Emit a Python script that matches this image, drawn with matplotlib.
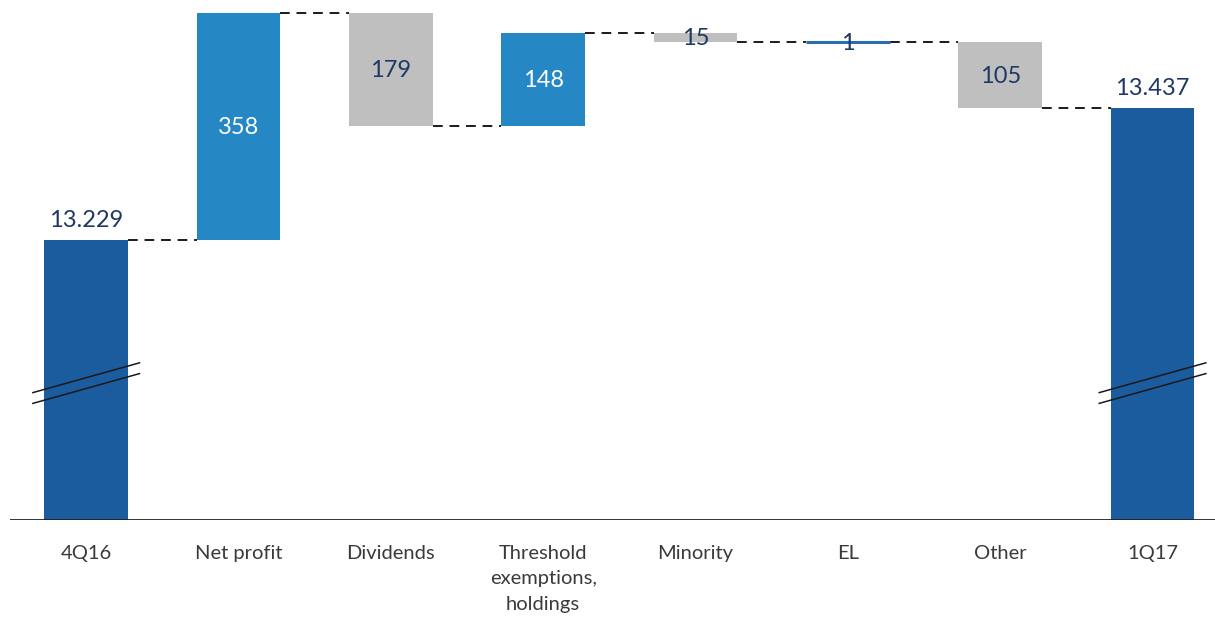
import numpy as np
import matplotlib
matplotlib.use("Agg")
from matplotlib import pyplot as plt

plt.rcParams['font.family'] = ['Lato', 'DejaVu Sans']

# Equity bridge 4Q16 -> 1Q17 (values in millions)
categories = ['4Q16', 'Net profit', 'Dividends', 'Threshold\nexemptions,\nholdings',
              'Minority', 'EL', 'Other', '1Q17']
start_total = 13229
changes = [358, -179, 148, -15, 1, -105]
end_total = 13437

total_color = '#1A5C9E'
up_color = '#2587C3'
down_color = '#BFBFBF'
el_color = '#2B6CB0'
label_dark = '#1F3864'

# Running totals for the floating bars
levels = [start_total]
for c in changes:
    levels.append(levels[-1] + c)

y_floor = 12787
y_top = 13607.5

fig = plt.figure(figsize=(12.15, 6.24), dpi=100)
ax = fig.add_axes([10 / 1215, 104 / 624, 1205 / 1215, 520 / 624])
ax.set_xlim(-0.5, 7.41)
ax.set_ylim(y_floor, y_top)

width = 0.55
x = np.arange(len(categories))

def fmt(v):
    return f"{v:,}".replace(",", ".")

# Opening and closing totals
for i, val in [(0, start_total), (len(categories) - 1, end_total)]:
    ax.bar(x[i], val - y_floor, bottom=y_floor, width=width, color=total_color, zorder=2)
    ax.text(x[i], val + 14, fmt(val), ha='center', va='bottom', fontsize=17,
            color=label_dark)
    # axis break marks across the total bars
    for off in (0, -17):
        ax.plot([x[i] - 0.35, x[i] + 0.35], [12988 + off, 13035 + off],
                color='#1a1a1a', lw=1.1, zorder=4, clip_on=False)

# Movement bars
for k, c in enumerate(changes):
    i = k + 1
    lo = min(levels[k], levels[k + 1])
    hi = max(levels[k], levels[k + 1])
    mid = (lo + hi) / 2
    if abs(c) <= 2:
        ax.hlines(levels[k + 1], x[i] - width / 2, x[i] + width / 2, color=el_color,
                  lw=2.2, zorder=3)
        txt_color = label_dark
    else:
        col = up_color if c > 0 else down_color
        ax.bar(x[i], hi - lo, bottom=lo, width=width, color=col, zorder=2)
        txt_color = 'white' if c > 0 else label_dark
    ax.text(x[i], mid - 2, str(abs(c)), ha='center', va='center', fontsize=17,
            color=txt_color, zorder=5)

# Dashed connectors between consecutive bars
for i in range(len(categories) - 1):
    ax.hlines(levels[i], x[i] + width / 2, x[i + 1] - width / 2,
              colors='#1a1a1a', linestyles=(0, (5, 3.5)), lw=1.4, zorder=1)

ax.axhline(y_floor, color='#222222', lw=1.3, zorder=3)

ax.set_xticks(x)
ax.set_xticklabels(categories, fontsize=14.5, color='#3a3a3a', linespacing=1.6,
                   va='top')
ax.tick_params(axis='x', length=0, pad=18)
ax.set_yticks([])
for s in ax.spines.values():
    s.set_visible(False)

fig.savefig('out.png', dpi=100, facecolor='white')
